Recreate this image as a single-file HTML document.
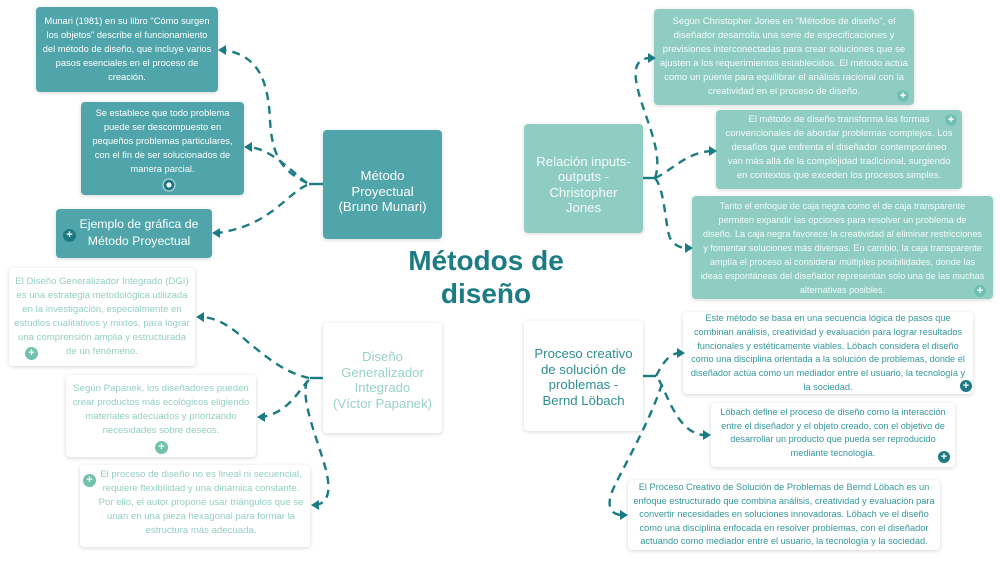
<!DOCTYPE html>
<html><head><meta charset="utf-8"><style>
*{margin:0;padding:0;box-sizing:border-box}
html,body{width:1000px;height:562px;background:#fff;overflow:hidden}
body{position:relative;font-family:"Liberation Sans",sans-serif}
.b{position:absolute;border-radius:4px;text-align:center;white-space:nowrap;box-shadow:0 1px 4px rgba(0,0,0,0.16)}
.s{font-size:9.3px;line-height:14px}
.m{background:#4fa5aa;color:#fff}
.j{background:#8fcdc3;color:#f4fbf9}
.d{background:#fff;color:#93cfc3}
.l{background:#fff;color:#35979a}
.n{font-size:13.2px;line-height:15.5px;display:flex;align-items:center;justify-content:center}
.ic{position:absolute;width:13px;height:13px;border-radius:50%;color:#fff;font-size:11px;line-height:13px;text-align:center;font-weight:bold}
.title{position:absolute;left:376px;top:244px;width:220px;text-align:center;font-size:28px;line-height:33px;font-weight:bold;color:#1b7c84}
svg{position:absolute;left:0;top:0}
</style></head><body>

<!-- Munari -->
<div class="b s m" style="left:36px;top:7px;width:182px;height:85px;padding-top:7px">Munari (1981) en su libro "Cómo surgen<br>los objetos" describe el funcionamiento<br>del método de diseño, que incluye varios<br>pasos esenciales en el proceso de<br>creación.</div>
<div class="b s m" style="left:81px;top:102px;width:163px;height:93px;padding-top:4px">Se establece que todo problema<br>puede ser descompuesto en<br>pequeños problemas particulares,<br>con el fin de ser solucionados de<br>manera parcial.</div>
<div class="b m" style="left:56px;top:209px;width:156px;height:49px;padding-top:7px;padding-left:10px;font-size:12.3px;line-height:17px">Ejemplo de gráfica de<br>Método Proyectual</div>
<div class="b m n" style="left:323px;top:130px;width:119px;height:109px;padding-top:14px">Método<br>Proyectual<br>(Bruno Munari)</div>

<!-- Jones -->
<div class="b j n" style="left:524px;top:124px;width:119px;height:109px;padding-top:12px">Relación inputs-<br>outputs -<br>Christopher<br>Jones</div>
<div class="b s j" style="left:654px;top:9px;width:260px;height:96px;padding-top:6px;font-size:9.5px">Según Christopher Jones en "Métodos de diseño", el<br>diseñador desarrolla una serie de especificaciones y<br>previsiones interconectadas para crear soluciones que se<br>ajusten a los requerimientos establecidos. El método actúa<br>como un puente para equilibrar el análisis racional con la<br>creatividad en el proceso de diseño.</div>
<div class="b s j" style="left:716px;top:110px;width:246px;height:79px;padding-top:3px;font-size:9.5px">El método de diseño transforma las formas<br>convencionales de abordar problemas complejos. Los<br>desafíos que enfrenta el diseñador contemporáneo<br>van más allá de la complejidad tradicional, surgiendo<br>en contextos que exceden los procesos simples.</div>
<div class="b s j" style="left:692px;top:196px;width:301px;height:103px;padding-top:3px;font-size:9.15px">Tanto el enfoque de caja negra como el de caja transparente<br>permiten expandir las opciones para resolver un problema de<br>diseño. La caja negra favorece la creatividad al eliminar restricciones<br>y fomentar soluciones más diversas. En cambio, la caja transparente<br>amplía el proceso al considerar múltiples posibilidades, donde las<br>ideas espontáneas del diseñador representan solo una de las muchas<br>alternativas posibles.</div>

<!-- DGI -->
<div class="b d n" style="left:323px;top:323px;width:119px;height:110px;padding-top:4px;color:#98d1c6">Diseño<br>Generalizador<br>Integrado<br>(Víctor Papanek)</div>
<div class="b s d" style="left:9px;top:268px;width:186px;height:98px;padding-top:7px;font-size:9.6px">El Diseño Generalizador Integrado (DGI)<br>es una estrategia metodológica utilizada<br>en la investigación, especialmente en<br>estudios cualitativos y mixtos, para lograr<br>una comprensión amplia y estructurada<br>de un fenómeno.</div>
<div class="b s d" style="left:66px;top:375px;width:190px;height:82px;padding-top:7px;font-size:9.6px">Según Papanek, los diseñadores pueden<br>crear productos más ecológicos eligiendo<br>materiales adecuados y priorizando<br>necesidades sobre deseos.</div>
<div class="b s d" style="left:80px;top:465px;width:230px;height:82px;padding-top:3px;padding-left:12px;font-size:9.6px">El proceso de diseño no es lineal ni secuencial,<br>requiere flexibilidad y una dinámica constante.<br>Por ello, el autor propone usar triángulos que se<br>unan en una pieza hexagonal para formar la<br>estructura más adecuada.</div>

<!-- Lobach -->
<div class="b l n" style="left:524px;top:321px;width:119px;height:110px;padding-top:2px;color:#2f8e95">Proceso creativo<br>de solución de<br>problemas -<br>Bernd Löbach</div>
<div class="b s l" style="left:683px;top:312px;width:290px;height:82px;padding-top:0px;line-height:13.8px;font-size:9.2px">Este método se basa en una secuencia lógica de pasos que<br>combinan análisis, creatividad y evaluación para lograr resultados<br>funcionales y estéticamente viables. Löbach considera el diseño<br>como una disciplina orientada a la solución de problemas, donde el<br>diseñador actúa como un mediador entre el usuario, la tecnología y<br>la sociedad.</div>
<div class="b s l" style="left:711px;top:403px;width:244px;height:64px;padding-top:3px;line-height:13.7px;font-size:9.15px">Löbach define el proceso de diseño como la interacción<br>entre el diseñador y el objeto creado, con el objetivo de<br>desarrollar un producto que pueda ser reproducido<br>mediante tecnología.</div>
<div class="b s l" style="left:628px;top:480px;width:312px;height:70px;padding-top:1px;line-height:13.6px;font-size:9.25px">El Proceso Creativo de Solución de Problemas de Bernd Löbach es un<br>enfoque estructurado que combina análisis, creatividad y evaluación para<br>convertir necesidades en soluciones innovadoras. Löbach ve el diseño<br>como una disciplina enfocada en resolver problemas, con el diseñador<br>actuando como mediador entre el usuario, la tecnología y la sociedad.</div>

<div class="title">Métodos de<br>diseño</div>

<!-- icons -->
<div class="ic" style="left:63px;top:229px;background:#1d7a82">+</div>
<div class="ic" style="left:897px;top:90px;background:#6fc0b2;width:12px;height:12px;line-height:12px">+</div>
<div class="ic" style="left:945px;top:114px;background:#6fc0b2;width:12px;height:12px;line-height:12px">+</div>
<div class="ic" style="left:974px;top:285px;background:#6fc0b2;width:12px;height:12px;line-height:12px">+</div>
<div class="ic" style="left:25px;top:347px;background:#72c1ac">+</div>
<div class="ic" style="left:155px;top:441px;background:#72c1ac">+</div>
<div class="ic" style="left:83px;top:474px;background:#72c1ac">+</div>
<div class="ic" style="left:960px;top:380px;background:#1d7a82;width:12px;height:12px;line-height:12px">+</div>
<div class="ic" style="left:938px;top:451px;background:#1d7a82;width:12px;height:12px;line-height:12px">+</div>

<svg width="1000" height="562" viewBox="0 0 1000 562">
<circle cx="169" cy="185" r="6" fill="#1d7a82" stroke="#cfe9ea" stroke-width="1"/>
<circle cx="169" cy="185" r="2.5" fill="#fff"/>
<g fill="none" stroke="#1b7b83" stroke-width="2.4">
<path d="M323,184 L309,184"/>
<path d="M643,178 L655,178"/>
<path d="M323,378 L310,378"/>
<path d="M643,376 L656,376"/>
</g>
<g fill="none" stroke="#1b7b83" stroke-width="2.4" stroke-dasharray="8 6">
<path d="M307,183 C285,172 272,160 270,120 C268,75 255,55 224,50"/>
<path d="M307,183 C290,170 272,150 250,147"/>
<path d="M307,185 C285,195 270,226 217,233"/>
<path d="M655,178 C665,150 640,110 636,80 C634,64 640,58 650,58"/>
<path d="M655,178 C670,172 686,152 712,151"/>
<path d="M655,178 C665,190 665,225 670,238 C675,246 680,248 688,248"/>
<path d="M309,378 C282,372 265,355 250,344 C235,330 220,318 202,317"/>
<path d="M309,380 C298,390 290,412 262,417"/>
<path d="M307,381 C300,400 318,440 326,470 C332,495 326,503 316,505"/>
<path d="M656,376 C662,365 668,354 679,353"/>
<path d="M659,380 C667,395 675,420 690,430 C696,434 700,435 705,435"/>
<path d="M662,384 C650,420 630,455 615,485 C605,505 610,514 621,515"/>
</g>
<g fill="#1b7b83">
<polygon points="218,50 226,45 226,55"/>
<polygon points="244,147 252,142 252,152"/>
<polygon points="212,233 220,228 220,238"/>
<polygon points="656,58 648,53 648,63"/>
<polygon points="717,151 709,146 709,156"/>
<polygon points="693,248 685,243 685,253"/>
<polygon points="196,317 204,312 204,322"/>
<polygon points="257,417 265,412 265,422"/>
<polygon points="311,505 319,500 319,510"/>
<polygon points="685,353 677,348 677,358"/>
<polygon points="711,435 703,430 703,440"/>
<polygon points="628,515 620,510 620,520"/>
</g>
</svg>
</body></html>
